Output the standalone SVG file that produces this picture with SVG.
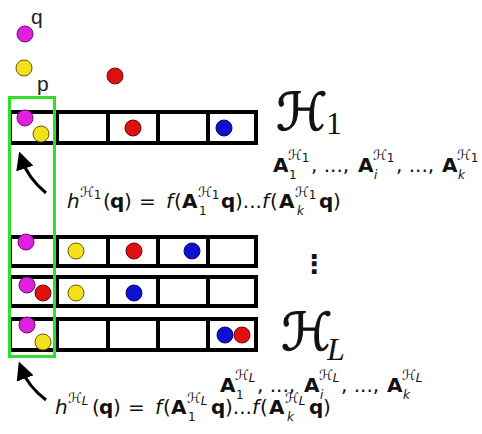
<svg xmlns="http://www.w3.org/2000/svg" width="482" height="434" viewBox="0 0 482 434">
<defs>
<style>
.cell{fill:#fff;stroke:#000;stroke-width:4}
.div{stroke:#000;stroke-width:4}
.m{fill:#e020e0;stroke:#6a106a;stroke-width:1}
.y{fill:#f2e21c;stroke:#6a5a00;stroke-width:1}
.r{fill:#e01010;stroke:#6a0808;stroke-width:1}
.b{fill:#1010d0;stroke:#08086a;stroke-width:1}
.t{font-family:"DejaVu Sans",sans-serif;fill:#111}
.big{font-family:"DejaVu Sans",sans-serif;fill:#111;stroke:#111;stroke-width:1}
.sym{font-family:"DejaVu Sans",sans-serif;font-size:14px}
.sub{font-family:"DejaVu Sans",sans-serif;font-size:12px}
.lbl{font-family:"Liberation Sans",Arial,sans-serif;font-size:21px;fill:#222}
.bold{font-weight:bold}
.it{font-style:italic}
.arr{fill:none;stroke:#000;stroke-width:3}
</style>
<marker id="ah" viewBox="0 0 10 10" refX="5" refY="5" markerWidth="6" markerHeight="6" orient="auto">
<path d="M0,0 L10,5 L0,10 z" fill="#000"/>
</marker>
</defs>
<rect width="482" height="434" fill="#fff"/>

<g id="free-points">
<circle class="m" cx="25" cy="34" r="8"/>
<text class="lbl" x="31" y="24">q</text>
<circle class="y" cx="24" cy="68" r="8"/>
<text class="lbl" x="37" y="91">p</text>
<circle class="r" cx="115" cy="76" r="8"/>
</g>

<g id="table-H1">
<rect class="cell" x="10" y="112" width="246" height="31"/>
<line class="div" x1="57" y1="112" x2="57" y2="143"/>
<line class="div" x1="108" y1="112" x2="108" y2="143"/>
<line class="div" x1="158" y1="112" x2="158" y2="143"/>
<line class="div" x1="208" y1="112" x2="208" y2="143"/>
<circle class="m" cx="25" cy="118" r="8"/>
<circle class="y" cx="41" cy="134" r="8"/>
<circle class="r" cx="133" cy="128" r="8"/>
<circle class="b" cx="224" cy="128" r="8"/>
</g>

<g id="table-2">
<rect class="cell" x="10" y="237" width="246" height="29"/>
<line class="div" x1="57" y1="237" x2="57" y2="266"/>
<line class="div" x1="108" y1="237" x2="108" y2="266"/>
<line class="div" x1="158" y1="237" x2="158" y2="266"/>
<line class="div" x1="208" y1="237" x2="208" y2="266"/>
<circle class="m" cx="26" cy="242" r="8"/>
<circle class="y" cx="76" cy="251" r="8"/>
<circle class="r" cx="134" cy="251" r="8"/>
<circle class="b" cx="192" cy="251" r="8"/>
</g>

<g id="table-3">
<rect class="cell" x="10" y="277" width="246" height="29"/>
<line class="div" x1="57" y1="277" x2="57" y2="306"/>
<line class="div" x1="108" y1="277" x2="108" y2="306"/>
<line class="div" x1="158" y1="277" x2="158" y2="306"/>
<line class="div" x1="208" y1="277" x2="208" y2="306"/>
<circle class="m" cx="27" cy="285" r="8"/>
<circle class="r" cx="43" cy="293" r="8"/>
<circle class="y" cx="76" cy="293" r="8"/>
<circle class="b" cx="134" cy="293" r="8"/>
</g>

<g id="table-HL">
<rect class="cell" x="10" y="319" width="246" height="31"/>
<line class="div" x1="57" y1="319" x2="57" y2="350"/>
<line class="div" x1="108" y1="319" x2="108" y2="350"/>
<line class="div" x1="158" y1="319" x2="158" y2="350"/>
<line class="div" x1="208" y1="319" x2="208" y2="350"/>
<circle class="m" cx="27" cy="325" r="8"/>
<circle class="y" cx="43" cy="342" r="8"/>
<circle class="b" cx="225" cy="335" r="8"/>
<circle class="r" cx="242" cy="335" r="8"/>
</g>

<g id="query-column">
<rect x="9.5" y="97.5" width="45" height="259" fill="none" stroke="#2fe02a" stroke-width="3"/>
</g>

<g id="connectors">
<path class="arr" d="M46,193 Q28,178 22,160" marker-end="url(#ah)"/>
<path class="arr" d="M46,400 Q28,386 22,370" marker-end="url(#ah)"/>
</g>

<g id="vdots">
<text class="t" x="301" y="273" font-size="26" font-weight="bold">⋮</text>
</g>

<g id="label-H1">
<text class="big" x="276" y="130" font-size="52">ℋ</text>
<text x="326" y="134" font-family="Liberation Serif,serif" font-size="32" fill="#111">1</text>
<text class="t" font-size="20"><tspan class="bold" x="273" y="172">A</tspan><tspan class="sym" x="288" y="160">ℋ</tspan><tspan class="sub" y="162">1</tspan><tspan class="sub" x="289" y="179">1</tspan><tspan x="311" y="172">, ...,</tspan><tspan class="bold" x="358" y="172">A</tspan><tspan class="sym" x="373" y="160">ℋ</tspan><tspan class="sub" y="162">1</tspan><tspan class="sub it" x="374" y="179">i</tspan><tspan x="396" y="172">, ...,</tspan><tspan class="bold" x="442" y="172">A</tspan><tspan class="sym" x="457" y="160">ℋ</tspan><tspan class="sub" y="162">1</tspan><tspan class="sub it" x="458" y="179">k</tspan></text>
<text class="t" font-size="20"><tspan class="it" x="67" y="208">h</tspan><tspan class="sym" x="80" y="197">ℋ</tspan><tspan class="sub" y="199">1</tspan><tspan x="103" y="208">(</tspan><tspan class="bold" x="110" y="208">q</tspan><tspan x="124" y="208">)</tspan><tspan x="139" y="208">=</tspan><tspan class="it" x="166" y="208">f</tspan><tspan x="174" y="208">(</tspan><tspan class="bold" x="182" y="208">A</tspan><tspan class="sym" x="198" y="197">ℋ</tspan><tspan class="sub" y="199">1</tspan><tspan class="sub" x="199" y="215">1</tspan><tspan class="bold" x="221" y="208">q</tspan><tspan x="235" y="208">)...</tspan><tspan class="it" x="262" y="208">f</tspan><tspan x="270" y="208">(</tspan><tspan class="bold" x="279" y="208">A</tspan><tspan class="sym" x="295" y="197">ℋ</tspan><tspan class="sub" y="199">1</tspan><tspan class="sub it" x="297" y="215">k</tspan><tspan class="bold" x="319" y="208">q</tspan><tspan x="333" y="208">)</tspan></text>
</g>

<g id="label-HL">
<text class="big" x="281" y="350" font-size="52">ℋ</text>
<text x="327" y="360" font-family="Liberation Serif,serif" font-style="italic" font-size="32" fill="#111">L</text>
<text class="t" font-size="20"><tspan class="bold" x="220" y="392">A</tspan><tspan class="sym" x="235" y="380">ℋ</tspan><tspan class="sub it" y="382">L</tspan><tspan class="sub" x="236" y="399">1</tspan><tspan x="257" y="392">, ...,</tspan><tspan class="bold" x="304" y="392">A</tspan><tspan class="sym" x="319" y="380">ℋ</tspan><tspan class="sub it" y="382">L</tspan><tspan class="sub it" x="320" y="399">i</tspan><tspan x="341" y="392">, ...,</tspan><tspan class="bold" x="387" y="392">A</tspan><tspan class="sym" x="402" y="380">ℋ</tspan><tspan class="sub it" y="382">L</tspan><tspan class="sub it" x="403" y="399">k</tspan></text>
<text class="t" font-size="20"><tspan class="it" x="55" y="414">h</tspan><tspan class="sym" x="68" y="403">ℋ</tspan><tspan class="sub it" y="405">L</tspan><tspan x="92" y="414">(</tspan><tspan class="bold" x="99" y="414">q</tspan><tspan x="113" y="414">)</tspan><tspan x="128" y="414">=</tspan><tspan class="it" x="155" y="414">f</tspan><tspan x="163" y="414">(</tspan><tspan class="bold" x="171" y="414">A</tspan><tspan class="sym" x="187" y="403">ℋ</tspan><tspan class="sub it" y="405">L</tspan><tspan class="sub" x="188" y="421">1</tspan><tspan class="bold" x="211" y="414">q</tspan><tspan x="225" y="414">)...</tspan><tspan class="it" x="252" y="414">f</tspan><tspan x="260" y="414">(</tspan><tspan class="bold" x="269" y="414">A</tspan><tspan class="sym" x="285" y="403">ℋ</tspan><tspan class="sub it" y="405">L</tspan><tspan class="sub it" x="287" y="421">k</tspan><tspan class="bold" x="309" y="414">q</tspan><tspan x="323" y="414">)</tspan></text>
</g>
</svg>
